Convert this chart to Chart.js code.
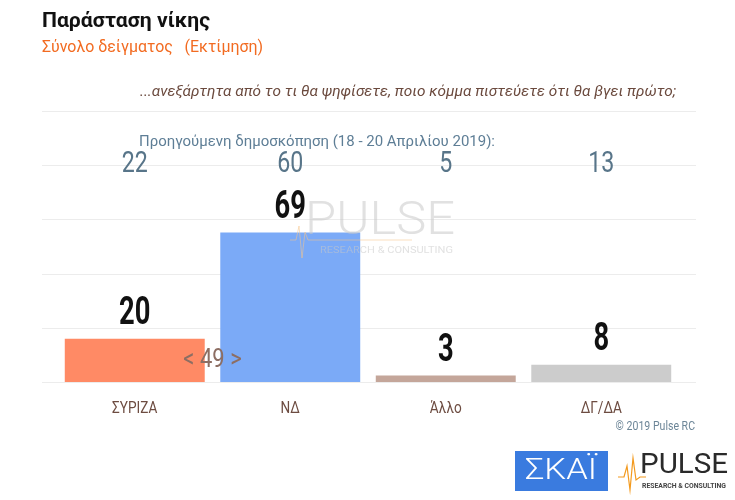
<!DOCTYPE html>
<html>
<head>
<meta charset="utf-8">
<script src="https://cdn.jsdelivr.net/npm/chart.js@4.4.0/dist/chart.umd.min.js"></script>
<style>
html,body{margin:0;padding:0;background:#fff;}
#wrap{width:735px;height:500px;position:relative;}
</style>
</head>
<body>
<div id="wrap"><canvas id="c" width="735" height="500"></canvas></div>
<script>
const categories = ['ΣΥΡΙΖΑ', 'ΝΔ', 'Άλλο', 'ΔΓ/ΔΑ'];
const currentValues = [20, 69, 3, 8];
const previousValues = [22, 60, 5, 13];
const barColors = ['#FF8A65', '#7BAAF7', '#C4A69A', '#CCCCCC'];
const yTicks = [0, 25, 50, 75, 100, 125];

const titleText = 'Παράσταση νίκης';
const subtitleText = 'Σύνολο δείγματος   (Εκτίμηση)';
const questionText = '...ανεξάρτητα από το τι θα ψηφίσετε, ποιο κόμμα πιστεύετε ότι θα βγει πρώτο;';
const previousLabel = 'Προηγούμενη δημοσκόπηση (18 - 20 Απριλίου 2019):';
const copyrightText = '© 2019 Pulse RC';

function drawText(ctx, text, x, y, font, color, align, targetWidth) {
  ctx.save();
  ctx.font = font;
  ctx.fillStyle = color;
  ctx.textBaseline = 'middle';
  let sx = 1;
  const w = ctx.measureText(text).width;
  if (targetWidth) sx = targetWidth / w;
  let dx = x;
  if (align === 'center') dx = x - (w * sx) / 2;
  else if (align === 'right') dx = x - w * sx;
  ctx.translate(dx, y);
  ctx.scale(sx, 1);
  ctx.textAlign = 'left';
  ctx.fillText(text, 0, 0);
  ctx.restore();
}
function drawCondensed(ctx, text, x, y, font, color, align, sx) {
  ctx.save();
  ctx.font = font;
  const w = ctx.measureText(text).width;
  drawText(ctx, text, x, y, font, color, align, w * sx);
  ctx.restore();
}

const gridPlugin = {
  id: 'gridExt',
  beforeDatasetsDraw(chart) {
    const ctx = chart.ctx, y = chart.scales.y;
    ctx.save();
    ctx.strokeStyle = '#ECECEC';
    ctx.lineWidth = 1.2;
    yTicks.forEach(t => {
      const py = Math.round(y.getPixelForValue(t)) + 0.5;
      ctx.beginPath();
      ctx.moveTo(42, py);
      ctx.lineTo(696, py);
      ctx.stroke();
    });
    ctx.restore();
  }
};

const decorPlugin = {
  id: 'decor',
  beforeDraw(chart) {
    const ctx = chart.ctx;
    ctx.save();
    ctx.fillStyle = '#fff';
    ctx.fillRect(0, 0, chart.width, chart.height);
    ctx.restore();
  },
  afterDatasetsDraw(chart) {
    const ctx = chart.ctx, x = chart.scales.x, y = chart.scales.y;
    // headings
    drawText(ctx, titleText, 42, 22, 'bold 21px Roboto', '#111111', 'left', 168);
    drawText(ctx, subtitleText, 42, 48, '16px Roboto', '#F26B21', 'left', 221);
    drawText(ctx, questionText, 676, 92, 'italic 15px Roboto', '#6B4A3E', 'right', 536);
    drawText(ctx, previousLabel, 139, 142, '15px Roboto', '#5E7E96', 'left', 356);

    // watermark
    ctx.save();
    ctx.globalAlpha = 0.55;
    drawText(ctx, 'PULSE', 305, 222, '300 46px Roboto', '#C8C8C8', 'left', 150);
    drawText(ctx, 'RESEARCH & CONSULTING', 320, 251, '9px Roboto', '#C8C8C8', 'left', 133);
    ctx.strokeStyle = '#F5C58A';
    ctx.lineWidth = 1;
    ctx.beginPath();
    ctx.moveTo(290, 240); ctx.lineTo(296, 240); ctx.lineTo(299, 226); ctx.lineTo(302, 258); ctx.lineTo(305, 232); ctx.lineTo(308, 240); ctx.lineTo(412, 240);
    ctx.stroke();
    ctx.restore();

    categories.forEach((c, i) => {
      const px = x.getPixelForValue(i);
      // previous poll values
      drawCondensed(ctx, String(previousValues[i]), px, 165, '29px Roboto', '#587589', 'center', 0.8);
      // data labels
      const top = y.getPixelForValue(currentValues[i]);
      drawCondensed(ctx, String(currentValues[i]), px, top - 24, 'bold 38px Roboto', '#111111', 'center', 0.72);
      // category labels
      drawCondensed(ctx, c, px, 409, '16px Roboto', '#6D4C41', 'center', 0.85);
    });

    // lead difference between first two
    const lead = currentValues[1] - currentValues[0];
    const mid = (x.getPixelForValue(0) + x.getPixelForValue(1)) / 2;
    drawCondensed(ctx, '< ' + lead + ' >', mid, 361, '25px Roboto', '#8D6E63', 'center', 0.88);

    drawCondensed(ctx, copyrightText, 695, 427, '12px Roboto', '#6C8597', 'right', 0.88);

    // logos
    ctx.save();
    ctx.fillStyle = '#3A7BDF';
    ctx.fillRect(515, 451, 93, 40);
    ctx.restore();
    drawText(ctx, 'ΣΚΑΪ', 561, 471, '300 30px Roboto', '#ffffff', 'center', 72);
    drawText(ctx, 'PULSE', 640, 466, '28px Roboto', '#2A2A2A', 'left', 88);
    drawText(ctx, 'RESEARCH & CONSULTING', 642, 486, 'bold 6.5px Roboto', '#444444', 'left', 84);
    ctx.save();
    ctx.strokeStyle = '#F39A1E';
    ctx.lineWidth = 1.2;
    ctx.beginPath();
    ctx.moveTo(618, 477); ctx.lineTo(624, 477); ctx.lineTo(627, 466); ctx.lineTo(630, 490); ctx.lineTo(633, 458); ctx.lineTo(636, 480); ctx.lineTo(640, 477); ctx.lineTo(646, 477);
    ctx.stroke();
    ctx.restore();
  }
};

new Chart(document.getElementById('c'), {
  type: 'bar',
  data: {
    labels: categories,
    datasets: [{
      data: currentValues,
      backgroundColor: barColors,
      borderWidth: 0,
      categoryPercentage: 0.9,
      barPercentage: 1.0
    }]
  },
  options: {
    responsive: false,
    animation: false,
    devicePixelRatio: 1,
    layout: { padding: { left: 57, right: 56, top: 111, bottom: 118 } },
    plugins: { legend: { display: false }, tooltip: { enabled: false } },
    scales: {
      x: { display: false },
      y: { display: false, min: 0, max: 125 }
    }
  },
  plugins: [gridPlugin, decorPlugin]
});
</script>
</body>
</html>
